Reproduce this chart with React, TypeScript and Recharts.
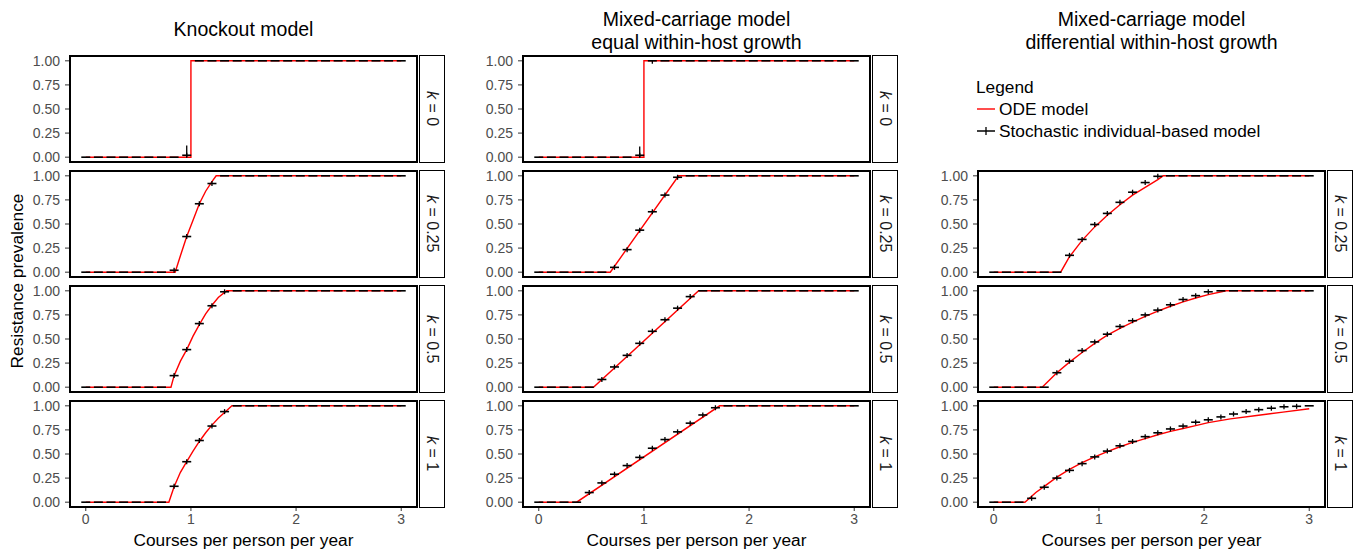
import React from "react";
import { ComposedChart, ErrorBar, Line, Scatter, XAxis, YAxis } from "recharts";

const FONT = '"Liberation Sans", Arial, Helvetica, sans-serif';

// x positions of the stochastic model runs (courses per person per year)
const stochX = [
  0, 0.12, 0.24, 0.36, 0.48, 0.6, 0.72, 0.84, 0.96, 1.08, 1.2, 1.32, 1.44,
  1.56, 1.68, 1.8, 1.92, 2.04, 2.16, 2.28, 2.4, 2.52, 2.64, 2.76, 2.88, 3.0,
];

const xTicks = [0, 1, 2, 3];
const yTicks = [0, 0.25, 0.5, 0.75, 1];
const kLabels = ["0", "0.25", "0.5", "1"];
const columnTitles = [
  ["Knockout model"],
  ["Mixed-carriage model", "equal within-host growth"],
  ["Mixed-carriage model", "differential within-host growth"],
];

// --- Knockout model ---
const knockoutK0 = [0, 0, 0, 0, 0, 0, 0, 0, 0.02, 1, 1, 1, 1, 1, 1, 1, 1, 1, 1, 1, 1, 1, 1, 1, 1, 1];
const knockoutK0Err = [0, 0, 0, 0, 0, 0, 0, 0, [0.02, 0.1], 0, 0, 0, 0, 0, 0, 0, 0, 0, 0, 0, 0, 0, 0, 0, 0, 0];
const knockoutK0OdeX = [0, 1, 1, 3];
const knockoutK0OdeY = [0, 0, 1, 1];

const knockoutK025 = [0, 0, 0, 0, 0, 0, 0, 0.02, 0.37, 0.71, 0.92, 1, 1, 1, 1, 1, 1, 1, 1, 1, 1, 1, 1, 1, 1, 1];
const knockoutK025OdeX = [0, 0.85, 0.9, 0.96, 1.02, 1.08, 1.14, 1.2, 1.24, 3];
const knockoutK025OdeY = [0, 0, 0.17, 0.37, 0.54, 0.71, 0.84, 0.94, 1, 1];

const knockoutK05 = [0, 0, 0, 0, 0, 0, 0, 0.12, 0.39, 0.66, 0.845, 0.99, 1, 1, 1, 1, 1, 1, 1, 1, 1, 1, 1, 1, 1, 1];
const knockoutK05OdeX = [0, 0.81, 0.84, 0.9, 0.96, 1.02, 1.08, 1.14, 1.2, 1.26, 1.34, 3];
const knockoutK05OdeY = [0, 0, 0.12, 0.27, 0.39, 0.53, 0.65, 0.76, 0.85, 0.93, 1, 1];

const knockoutK1 = [0, 0, 0, 0, 0, 0, 0, 0.165, 0.42, 0.64, 0.79, 0.94, 1, 1, 1, 1, 1, 1, 1, 1, 1, 1, 1, 1, 1, 1];
const knockoutK1OdeX = [0, 0.79, 0.84, 0.9, 0.96, 1.02, 1.08, 1.14, 1.2, 1.26, 1.32, 1.39, 3];
const knockoutK1OdeY = [0, 0, 0.16, 0.31, 0.42, 0.53, 0.63, 0.72, 0.8, 0.87, 0.93, 1, 1];

// --- Mixed-carriage, equal within-host growth ---
const equalK0 = [0, 0, 0, 0, 0, 0, 0, 0, 0.02, 1, 1, 1, 1, 1, 1, 1, 1, 1, 1, 1, 1, 1, 1, 1, 1, 1];
const equalK0Err = [0, 0, 0, 0, 0, 0, 0, 0, [0.02, 0.09], [0.03, 0], 0, 0, 0, 0, 0, 0, 0, 0, 0, 0, 0, 0, 0, 0, 0, 0];
const equalK0OdeX = [0, 1, 1, 3];
const equalK0OdeY = [0, 0, 1, 1];

const equalK025 = [0, 0, 0, 0, 0, 0, 0.05, 0.234, 0.436, 0.627, 0.8, 0.985, 1, 1, 1, 1, 1, 1, 1, 1, 1, 1, 1, 1, 1, 1];
const equalK025OdeX = [0, 0.68, 1.33, 3];
const equalK025OdeY = [0, 0, 1, 1];

const equalK05 = [0, 0, 0, 0, 0, 0.08, 0.21, 0.33, 0.455, 0.58, 0.7, 0.82, 0.94, 1, 1, 1, 1, 1, 1, 1, 1, 1, 1, 1, 1, 1];
const equalK05OdeX = [0, 0.52, 1.52, 3];
const equalK05OdeY = [0, 0, 1, 1];

const equalK1 = [0, 0, 0, 0, 0.1, 0.2, 0.29, 0.38, 0.465, 0.56, 0.65, 0.73, 0.82, 0.905, 0.98, 1, 1, 1, 1, 1, 1, 1, 1, 1, 1, 1];
const equalK1OdeX = [0, 0.36, 1.72, 3];
const equalK1OdeY = [0, 0, 1, 1];

// --- Mixed-carriage, differential within-host growth ---
const diffK025 = [0, 0, 0, 0, 0, 0, 0.175, 0.34, 0.495, 0.61, 0.725, 0.83, 0.93, 0.995, 1, 1, 1, 1, 1, 1, 1, 1, 1, 1, 1, 1];
const diffK025OdeX = [0, 0.636, 0.72, 0.84, 0.96, 1.08, 1.2, 1.32, 1.44, 1.56, 1.61, 3];
const diffK025OdeY = [0, 0, 0.16, 0.33, 0.47, 0.59, 0.7, 0.8, 0.88, 0.96, 1, 1];

const diffK05 = [0, 0, 0, 0, 0, 0.15, 0.27, 0.38, 0.47, 0.55, 0.63, 0.69, 0.75, 0.8, 0.855, 0.91, 0.95, 0.99, 1, 1, 1, 1, 1, 1, 1, 1];
const diffK05OdeX = [0, 0.46, 0.6, 0.72, 0.84, 0.96, 1.08, 1.2, 1.32, 1.44, 1.56, 1.68, 1.8, 1.92, 2.04, 2.21, 3];
const diffK05OdeY = [0, 0, 0.15, 0.26, 0.36, 0.455, 0.54, 0.61, 0.675, 0.735, 0.79, 0.84, 0.885, 0.925, 0.96, 1, 1];

const diffK1 = [0, 0, 0, 0.04, 0.155, 0.25, 0.33, 0.4, 0.47, 0.53, 0.585, 0.63, 0.68, 0.72, 0.76, 0.79, 0.83, 0.855, 0.885, 0.915, 0.94, 0.96, 0.975, 0.99, 0.995, 1];
const diffK1OdeX = [0, 0.296, 0.4, 0.5, 0.6, 0.72, 0.84, 0.96, 1.08, 1.2, 1.32, 1.44, 1.56, 1.68, 1.8, 1.92, 2.04, 2.25, 2.5, 2.75, 3];
const diffK1OdeY = [0, 0, 0.1, 0.18, 0.26, 0.34, 0.41, 0.47, 0.525, 0.575, 0.62, 0.66, 0.7, 0.735, 0.765, 0.795, 0.825, 0.865, 0.9, 0.935, 0.97];

type PanelDef = {
  col: number;
  row: number;
  stoch: number[];
  err?: (number | number[])[];
  odeX: number[];
  odeY: number[];
};

const panels: PanelDef[] = [
  { col: 0, row: 0, stoch: knockoutK0, err: knockoutK0Err, odeX: knockoutK0OdeX, odeY: knockoutK0OdeY },
  { col: 0, row: 1, stoch: knockoutK025, odeX: knockoutK025OdeX, odeY: knockoutK025OdeY },
  { col: 0, row: 2, stoch: knockoutK05, odeX: knockoutK05OdeX, odeY: knockoutK05OdeY },
  { col: 0, row: 3, stoch: knockoutK1, odeX: knockoutK1OdeX, odeY: knockoutK1OdeY },
  { col: 1, row: 0, stoch: equalK0, err: equalK0Err, odeX: equalK0OdeX, odeY: equalK0OdeY },
  { col: 1, row: 1, stoch: equalK025, odeX: equalK025OdeX, odeY: equalK025OdeY },
  { col: 1, row: 2, stoch: equalK05, odeX: equalK05OdeX, odeY: equalK05OdeY },
  { col: 1, row: 3, stoch: equalK1, odeX: equalK1OdeX, odeY: equalK1OdeY },
  { col: 2, row: 1, stoch: diffK025, odeX: diffK025OdeX, odeY: diffK025OdeY },
  { col: 2, row: 2, stoch: diffK05, odeX: diffK05OdeX, odeY: diffK05OdeY },
  { col: 2, row: 3, stoch: diffK1, odeX: diffK1OdeX, odeY: diffK1OdeY },
];

// layout (page pixels)
const PLOT_LEFT = [70, 523, 978];
const PLOT_TOP = [56, 171, 286, 401];
const PLOT_W = 347;
const PLOT_H = 106;
const Y_AXIS_W = 60;
const X_AXIS_H = 40;
const PAD = 8; // room above/below the plot so edge tick labels are not clipped
const STRIP_W = 26;

const tickStyle = { fill: "#4d4d4d", fontSize: 14, fontFamily: FONT };

// stochastic run marker: horizontal dash, with a short vertical bar where runs vary
function PlusMark(props: any) {
  const { cx, cy, payload } = props;
  if (cx == null || cy == null) return <g />;
  const spread = payload && payload.y > 0.001 && payload.y < 0.999;
  return (
    <g>
      <line x1={cx - 4.5} x2={cx + 4.5} y1={cy} y2={cy} stroke="#000" strokeWidth={1.6} />
      {spread && (
        <line x1={cx} x2={cx} y1={cy - 2.5} y2={cy + 2.5} stroke="#000" strokeWidth={1.3} />
      )}
    </g>
  );
}

function Panel({ col, row, stoch, err, odeX, odeY }: PanelDef) {
  const left = PLOT_LEFT[col];
  const top = PLOT_TOP[row];
  const bottom = row === 3;
  const odeData = odeX.map((x, i) => ({ x, y: odeY[i] }));
  const stochData = stochX.map((x, i) => ({ x, y: stoch[i], err: err ? err[i] : 0 }));

  return (
    <>
      <div style={{ position: "absolute", left: left - Y_AXIS_W, top: top - PAD }}>
        <ComposedChart
          width={Y_AXIS_W + PLOT_W}
          height={PLOT_H + PAD + (bottom ? X_AXIS_H : PAD)}
          margin={{ top: PAD, right: 0, bottom: bottom ? 0 : PAD, left: 0 }}
        >
          <XAxis
            type="number"
            dataKey="x"
            domain={[-0.15, 3.15]}
            allowDataOverflow
            ticks={xTicks}
            interval={0}
            hide={!bottom}
            height={X_AXIS_H}
            tick={tickStyle}
            tickLine={{ stroke: "#333" }}
            tickSize={4}
            tickMargin={3}
            axisLine={false}
          />
          <YAxis
            type="number"
            dataKey="y"
            domain={[-0.05, 1.05]}
            allowDataOverflow
            ticks={yTicks}
            interval={0}
            width={Y_AXIS_W}
            tickFormatter={(v: number) => v.toFixed(2)}
            tick={tickStyle}
            tickLine={{ stroke: "#333" }}
            tickSize={5}
            tickMargin={5}
            axisLine={false}
          />
          <Line
            data={odeData}
            dataKey="y"
            type="linear"
            stroke="#ff0000"
            strokeWidth={1.4}
            dot={false}
            isAnimationActive={false}
          />
          <Scatter
            data={stochData}
            dataKey="y"
            shape={(p: any) => <PlusMark {...p} />}
            isAnimationActive={false}
          >
            {err && (
              <ErrorBar dataKey="err" direction="y" width={0} stroke="#000" strokeWidth={1.3} />
            )}
          </Scatter>
        </ComposedChart>
      </div>
      <div
        style={{
          position: "absolute",
          left: left - 1,
          top: top - 1,
          width: PLOT_W + 2,
          height: PLOT_H + 2,
          border: "2px solid #000",
          boxSizing: "border-box",
          pointerEvents: "none",
        }}
      />
      <div
        style={{
          position: "absolute",
          left: left + PLOT_W + 2,
          top: top - 1,
          width: STRIP_W,
          height: PLOT_H + 2,
          border: "1.5px solid #000",
          boxSizing: "border-box",
          background: "#fff",
          display: "flex",
          alignItems: "center",
          justifyContent: "center",
        }}
      >
        <span style={{ writingMode: "vertical-rl", fontSize: 16, color: "#1a1a1a", whiteSpace: "nowrap" }}>
          <i>k</i> = {kLabels[row]}
        </span>
      </div>
    </>
  );
}

export default function App() {
  return (
    <div
      style={{
        position: "absolute",
        left: 0,
        top: 0,
        width: 1362,
        height: 553,
        background: "#fff",
        fontFamily: FONT,
        color: "#000",
        overflow: "hidden",
      }}
    >
      {columnTitles.map((lines, c) => (
        <div
          key={c}
          style={{
            position: "absolute",
            left: PLOT_LEFT[c],
            width: PLOT_W,
            top: lines.length === 1 ? 18 : 8,
            textAlign: "center",
            fontSize: 19.5,
            lineHeight: "23px",
          }}
        >
          {lines.map((t) => (
            <div key={t}>{t}</div>
          ))}
        </div>
      ))}

      {panels.map((p) => (
        <Panel key={`${p.col}-${p.row}`} {...p} />
      ))}

      <div
        style={{
          position: "absolute",
          left: 17,
          top: 281,
          transform: "translate(-50%, -50%) rotate(-90deg)",
          whiteSpace: "nowrap",
          fontSize: 17.3,
        }}
      >
        Resistance prevalence
      </div>

      {PLOT_LEFT.map((l, c) => (
        <div
          key={c}
          style={{
            position: "absolute",
            left: l,
            width: PLOT_W,
            top: 530,
            lineHeight: "20px",
            textAlign: "center",
            fontSize: 17.3,
          }}
        >
          Courses per person per year
        </div>
      ))}

      <div style={{ position: "absolute", left: 976, top: 76, fontSize: 17.3, lineHeight: "22px" }}>
        <div>Legend</div>
        <div style={{ display: "flex", alignItems: "center" }}>
          <svg width={23} height={12}>
            <line x1={1} x2={19} y1={6} y2={6} stroke="#ff0000" strokeWidth={1.4} />
          </svg>
          <span>ODE model</span>
        </div>
        <div style={{ display: "flex", alignItems: "center" }}>
          <svg width={23} height={12}>
            <line x1={1} x2={19} y1={6} y2={6} stroke="#000" strokeWidth={1.5} />
            <line x1={10} x2={10} y1={2} y2={10} stroke="#000" strokeWidth={1.3} />
          </svg>
          <span>Stochastic individual-based model</span>
        </div>
      </div>
    </div>
  );
}
